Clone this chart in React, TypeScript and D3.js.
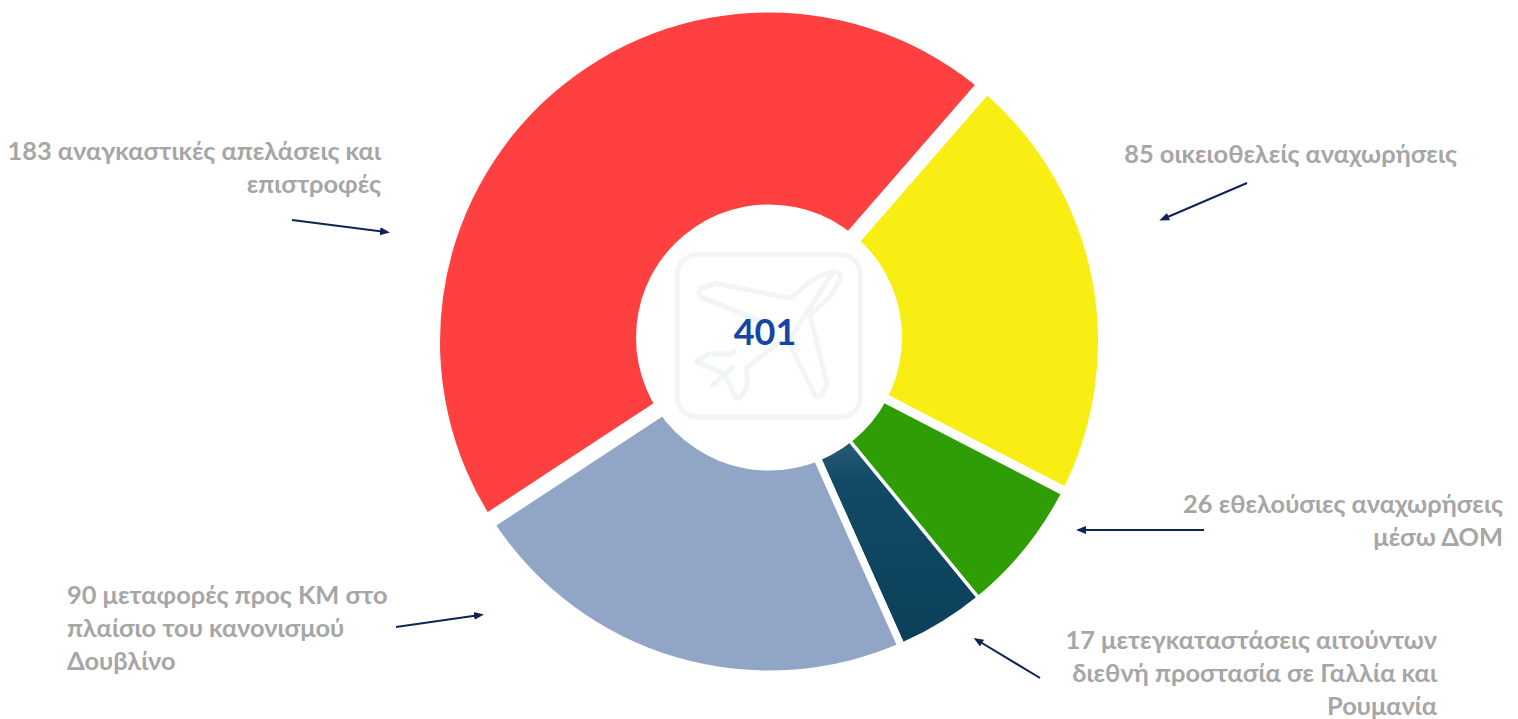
import React from "react";
import * as d3 from "d3";

const categories = ["Αναγκαστικές", "Οικειοθελείς", "Εθελούσιες", "Μετεγκαταστάσεις", "Δουβλίνο"];
const values = [183, 85, 26, 17, 90];
const colors = ["#FF4040", "#F8EE14", "#2F9E06", "url(#darkGrad)", "#91A5C6"];
const gapAfter = [16.4, 9.2, 3.5, 7.6, 16];
const gapShift = [-4.8, -2.6, 0.5, 3.6, 3.8];
const total = "401";

const labelLines = [
  ["183 αναγκαστικές απελάσεις και", "επιστροφές"],
  ["85 οικειοθελείς αναχωρήσεις"],
  ["26 εθελούσιες αναχωρήσεις", "μέσω ΔΟΜ"],
  ["17 μετεγκαταστάσεις αιτούντων", "διεθνή προστασία σε Γαλλία και", "Ρουμανία"],
  ["90 μεταφορές προς ΚΜ στο", "πλαίσιο του κανονισμού", "Δουβλίνο"],
];
const labelX = [381, 1457, 1503, 1437, 67];
const labelY = [160, 163, 513, 649, 604];
const labelAnchor = ["end", "end", "end", "end", "start"];
const arrows = [
  [292, 220, 386, 232],
  [1247, 183, 1163, 219],
  [1204, 530, 1080, 530],
  [1040, 678, 977, 640],
  [396, 627, 480, 615],
];

const cx = 769;
const cy = 341.5;
const R = 329;
const startAngle = ((41 - (183 / 401) * 360) * Math.PI) / 180;

export default function App() {
  const pie = d3
    .pie<number>()
    .sort(null)
    .startAngle(startAngle)
    .endAngle(startAngle + 2 * Math.PI);
  const arcs = pie(values);
  const arc = d3.arc<d3.PieArcDatum<number>>().innerRadius(0).outerRadius(R);
  const font = "Lato, 'Open Sans', sans-serif";
  return (
    <svg
      width={1518}
      height={719}
      style={{ position: "absolute", left: 0, top: 0, display: "block", background: "#fff" }}
    >
      <defs>
        <linearGradient id="darkGrad" gradientUnits="userSpaceOnUse" x1={0} y1={98} x2={0} y2={303}>
          <stop offset="0" stopColor="#2A5A72" />
          <stop offset="0.2" stopColor="#124A66" />
          <stop offset="1" stopColor="#0C405A" />
        </linearGradient>
        <marker id="head" viewBox="0 0 10 10" refX="6" refY="5" markerWidth="5" markerHeight="5" orient="auto">
          <path d="M0,1 L10,5 L0,9 Z" fill="#0F2454" />
        </marker>
      </defs>
      <g transform={`translate(${cx},${cy})`}>
        {arcs.map((a, i) => (
          <path key={categories[i]} d={arc(a) ?? ""} fill={colors[i]} />
        ))}
        {arcs.map((a, i) => {
          const sx = gapShift[i] * Math.cos(a.endAngle);
          const sy = gapShift[i] * Math.sin(a.endAngle);
          return (
            <line
              key={i}
              x1={sx}
              y1={sy}
              x2={sx + (R + 6) * Math.sin(a.endAngle)}
              y2={sy - (R + 6) * Math.cos(a.endAngle)}
              stroke="#fff"
              strokeWidth={gapAfter[i]}
            />
          );
        })}
      </g>
      <circle cx={769} cy={337.5} r={133} fill="#fff" />
      <g transform="translate(620,220) scale(0.3333)" fill="none" stroke="#F1F5F6" strokeWidth={15} strokeLinejoin="round" strokeLinecap="round">
        <rect x={172} y={104} width={549} height={487} rx={60} />
        <path d="M640,155 Q600,165 570,185 L512,235 L285,190 L245,205 Q228,218 245,232 L440,310 M345,395 L330,402 L265,402 L228,425 L310,460 L350,535 Q360,540 380,505 Q385,480 378,445 L480,365 M505,365 L585,525 Q595,535 605,525 L622,495 L570,285 L625,235 Q650,205 660,175 Q665,155 640,155 Z" />
        <path d="M278,495 L338,442" />
      </g>
      <text x={765} y={345} textAnchor="middle" fontFamily={font} fontWeight={700} fontSize={36} fill="#1446A8">
        {total}
      </text>
      {labelLines.map((lines, i) => (
        <text key={i} fontFamily={font} fontWeight={700} fontSize={25.4} fill="#A6A6A6" textAnchor={labelAnchor[i]}>
          {lines.map((l, j) => (
            <tspan key={j} x={labelX[i]} y={labelY[i] + j * 33}>
              {l}
            </tspan>
          ))}
        </text>
      ))}
      {arrows.map((a, i) => (
        <line key={i} x1={a[0]} y1={a[1]} x2={a[2]} y2={a[3]} stroke="#0F2454" strokeWidth={2} markerEnd="url(#head)" />
      ))}
    </svg>
  );
}
